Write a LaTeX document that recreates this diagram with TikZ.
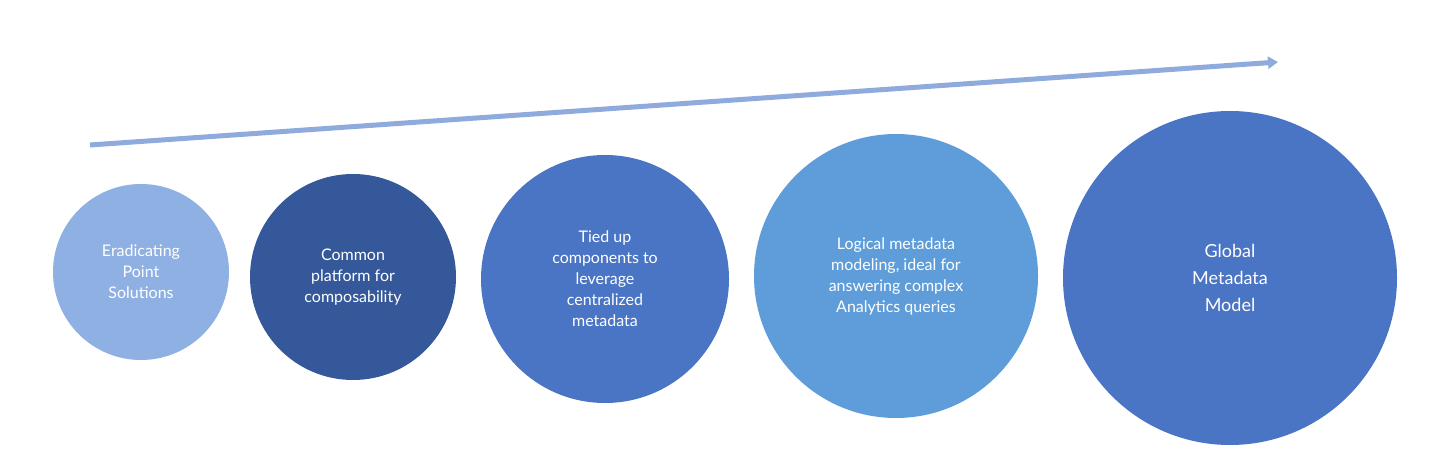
\documentclass[tikz,border=0pt]{standalone}
\usepackage{fontspec}
\setmainfont{Lato}
\usetikzlibrary{arrows.meta}
\definecolor{lightblue}{HTML}{8FB0E3}
\definecolor{darkblue}{HTML}{34589A}
\definecolor{midblue}{HTML}{4A74C4}
\definecolor{skyblue}{HTML}{5E9DD9}
\definecolor{arrowblue}{HTML}{8FAADC}
\begin{document}
\begin{tikzpicture}[x=1pt,y=-1pt]
    % `stage' is used for each of the circles.
    \tikzstyle{stage} = [circle,inner sep=0pt,text=white,align=center,font=\fontsize{16}{21}\selectfont]
    \useasboundingbox (0,0) rectangle (1456,476);
    %
    \node[stage,fill=lightblue,minimum size=176pt] (s1) at (141,272) {Eradicating\\Point\\Solutions};
    \node[stage,fill=darkblue,minimum size=206pt] (s2) at (353,277) {Common\\platform for\\composability};
    \node[stage,fill=midblue,minimum size=248pt] (s3) at (605,279) {Tied up\\components to\\leverage\\centralized\\metadata};
    \node[stage,fill=skyblue,minimum size=284pt] (s4) at (896,276) {Logical metadata\\modeling, ideal for\\answering complex\\Analytics queries};
    \node[stage,fill=midblue,minimum size=334pt,font=\fontsize{18}{27}\selectfont] (s5) at (1230,278) {Global\\Metadata\\Model};
    % Draw trend arrow.
    \coordinate (start) at (90,145);
    \coordinate (end) at (1278,62);
    \draw[arrowblue,line width=5pt,-{Triangle[length=10pt,width=12pt]}] (start) -- (end);
\end{tikzpicture}
\end{document}
